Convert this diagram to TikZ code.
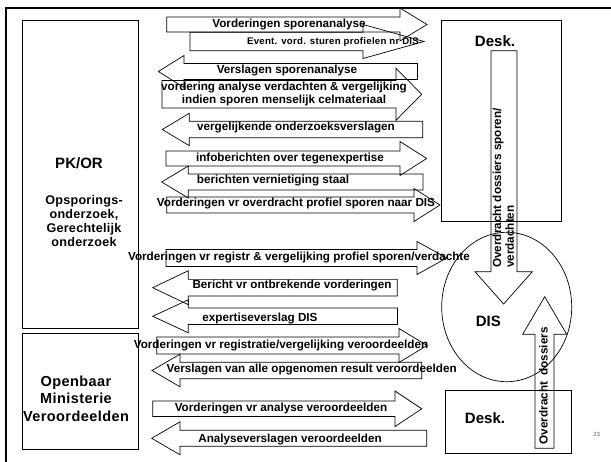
\documentclass[tikz,border=0pt]{standalone}
\usepackage{fontspec}
\setmainfont{Liberation Sans}
\tikzset{
  blk/.style={draw=black, line width=0.7pt, line join=miter},
  frame/.style={draw=black, line width=2pt},
  boxs/.style={draw=black, line width=0.7pt},
  lbl/.style={font=\bfseries\fontsize{11.7}{12.7}\selectfont, inner sep=0pt, align=center},
  small/.style={font=\bfseries\fontsize{9.6}{11}\selectfont\addfontfeature{LetterSpace=3}, inner sep=0pt},
  big/.style={font=\bfseries\fontsize{15}{17}\selectfont, inner sep=0pt},
  sub/.style={font=\bfseries\fontsize{12.6}{14}\selectfont\addfontfeature{LetterSpace=2}, inner sep=0pt, align=center},
  om/.style={font=\bfseries\fontsize{14.5}{17.5}\selectfont\addfontfeature{LetterSpace=3}, inner sep=0pt, align=center},
}
% right-pointing block arrow: x left, x head base, x tip, y centre, body half, head half
\newcommand\blkR[6]{\draw[blk] ({#1},{#4-#5}) -- ({#2},{#4-#5}) -- ({#2},{#4-#6}) -- ({#3},{#4}) -- ({#2},{#4+#6}) -- ({#2},{#4+#5}) -- ({#1},{#4+#5}) -- cycle;}
% left-pointing block arrow: x tip, x head base, x right, y centre, body half, head half
\newcommand\blkL[6]{\draw[blk] ({#3},{#4-#5}) -- ({#2},{#4-#5}) -- ({#2},{#4-#6}) -- ({#1},{#4}) -- ({#2},{#4+#6}) -- ({#2},{#4+#5}) -- ({#3},{#4+#5}) -- cycle;}
\begin{document}
\begin{tikzpicture}[x=1pt,y=-1pt]
\useasboundingbox (0,0) rectangle (611,462);
% frame
\draw[frame] (6,475) -- (6,8) -- (620,8);
% left boxes
\draw[boxs] (22,20) rectangle (138,328);
\draw[boxs] (22,333) rectangle (138,449);
\node[big] (pkor) at (79,163) {PK/OR};
\node[sub] (pksub) at (84,220.5) {Opsporings-\\onderzoek,\\Gerechtelijk\\onderzoek};
\node[om] (om) at (76,398.5) {Openbaar\\Ministerie\\Veroordeelden};
% right side: Desk boxes and DIS ellipse
\draw[boxs] (441.7,20) rectangle (561,221.7);
\node[big] (desk1) at (495,40.7) {Desk.};
\draw[boxs] (506.7,307) ellipse [x radius=65, y radius=74.7];
\node[big] (dis) at (488.3,321.7) {DIS};
\draw[boxs] (445.7,390.7) rectangle (571.7,453.3);
\node[big] (desk2) at (485,418.3) {Desk.};
% vertical arrows
\draw[blk] (491,50.7) -- (517,50.7) -- (517,271.7) -- (532.3,271.7) -- (503.6,304) -- (475,271.7) -- (491,271.7) -- cycle;
\node[lbl, rotate=90, anchor=west, align=left] (ovd1) at (503.4,268) {Overdracht dossiers sporen/\\verdachten};
\draw[blk] (535,448.3) -- (535,334.3) -- (522.7,334.3) -- (544.7,296.7) -- (566.7,334.3) -- (554,334.3) -- (554,448.3) -- cycle;
\node[lbl, rotate=90] (ovd2) at (543.5,385.7) {Overdracht\ \ dossiers};
% horizontal block arrows
\blkR{166.7}{400}{427}{24.5}{7.5}{16.5}
\node[lbl] (t1) at (289,24.5) {Vorderingen sporenanalyse};
\blkR{190}{363}{424}{41.5}{9.2}{17}
\node[small] (t2) at (333,42.5) {Event. vord. sturen profielen nr DIS};
\blkL{158.3}{184}{417.5}{71.5}{8}{16}
\node[lbl] (t3) at (287,70.5) {Verslagen sporenanalyse};
\blkR{162}{396}{421.7}{94.3}{13.8}{26}
\node[lbl] (t4) at (284,94.3) {vordering analyse verdachten \& vergelijking\\indien sporen menselijk celmateriaal};
\blkL{162.3}{189.3}{422.7}{129.5}{8.3}{16.2}
\node[lbl] (t5) at (296,128) {vergelijkende onderzoeksverslagen};
\blkR{166}{400}{426.7}{158.5}{7.5}{17}
\node[lbl] (t6) at (290,158.3) {infoberichten over tegenexpertise};
\blkL{161.7}{188.3}{423}{182}{8}{16}
\node[lbl] (t7) at (273,181) {berichten vernietiging staal};
\blkR{166.7}{414}{440}{205}{8}{16.5}
\node[lbl] (t8) at (296,204) {Vorderingen vr overdracht profiel sporen naar DIS};
\blkR{166}{417}{446.7}{258}{8.5}{16.5}
\node[lbl] (t9) at (299,258) {Vorderingen vr registr \& vergelijking profiel sporen/verdachte};
\blkL{152.7}{188.3}{397.3}{287.7}{8.3}{17}
\node[lbl] (t10) at (292,286) {Bericht vr ontbrekende vorderingen};
\blkL{152.7}{188.3}{397.5}{316.3}{8.2}{16.5}
\node[lbl] (t11) at (260,319) {expertiseverslag DIS};
\blkR{156.7}{399}{427}{345.5}{8.5}{17}
\node[lbl] (t12) at (281,346) {Vorderingen vr registratie/vergelijking veroordeelden};
\blkL{152}{180}{421.7}{370.5}{8.3}{16.3}
\node[lbl] (t13) at (311.7,369.5) {Verslagen van alle opgenomen result veroordeelden};
\blkR{152.7}{395}{421.7}{408.8}{7.8}{17.8}
\node[lbl] (t14) at (281,408.3) {Vorderingen vr analyse veroordeelden};
\blkL{151.7}{180}{426.7}{438.3}{8}{16.5}
\node[lbl] (t15) at (290,440) {Analyseverslagen veroordeelden};
% page number
\node[font=\fontsize{6}{7}\selectfont, text=black!60, inner sep=0pt] (pg) at (596.7,434) {23};
\end{tikzpicture}
\end{document}
